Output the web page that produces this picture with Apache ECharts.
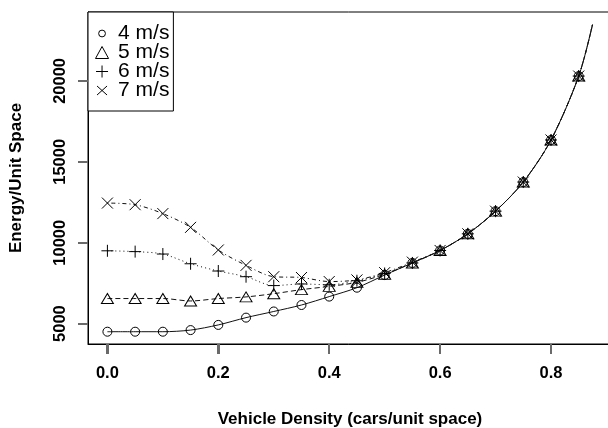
<!DOCTYPE html>
<html>
<head>
<meta charset="utf-8">
<script src="https://cdn.jsdelivr.net/npm/echarts@6/dist/echarts.min.js"></script>
<style>
  html, body { margin: 0; padding: 0; background: #fff; }
  #chart { width: 608px; height: 428px; }
</style>
</head>
<body>
<div id="chart"></div>
<script>
// Vehicle density (cars per unit space) at which each speed was simulated
const density = [0, 0.05, 0.1, 0.15, 0.2, 0.25, 0.3, 0.35, 0.4, 0.45,
                 0.5, 0.55, 0.6, 0.65, 0.7, 0.75, 0.8, 0.85];

// Energy per unit space for each vehicle speed
const energy4 = [4500, 4500, 4500, 4600, 4920, 5370, 5750, 6150, 6670, 7220,
                 8000, 8750, 9520, 10550, 11950, 13750, 16350, 20300];
const energy5 = [6550, 6550, 6550, 6400, 6550, 6650, 6850, 7100, 7300, 7550,
                 8050, 8750, 9520, 10550, 11950, 13750, 16350, 20300];
const energy6 = [9500, 9450, 9300, 8700, 8250, 7900, 7350, 7450, 7400, 7650,
                 8100, 8750, 9520, 10550, 11950, 13750, 16350, 20300];
const energy7 = [12450, 12350, 11800, 10950, 9550, 8600, 7900, 7850, 7600, 7700,
                 8150, 8800, 9520, 10550, 11950, 13750, 16350, 20300];

// Fitted curves run a little past the last simulated density
const curveTail = [0.875, 23500];

const speedNames = ['4 m/s', '5 m/s', '6 m/s', '7 m/s'];
const xTicks = [0, 0.2, 0.4, 0.6, 0.8];
const yTicks = [5000, 10000, 15000, 20000];

// Axis extents (data range padded by 4% on each side)
const xRange = [-0.035, 0.91];
const yRange = [3740, 24260];

const plusPath = 'path://M0,5L10,5M5,0L5,10';
const crossPath = 'path://M0,0L10,10M10,0L0,10';
const symbols = ['circle', 'triangle', plusPath, crossPath];
const symbolSizes = [9, [12, 10], 12, 11];
const dashes = ['solid', [5, 3], [1, 3], [1, 3, 4, 3]];
const seriesValues = [energy4, energy5, energy6, energy7];

// Legend keys: the circle and cross sit inside a padded box so they draw smaller
const legendIcons = [
  'path://M0,0L0,0M12,12L12,12M9.4,6A3.4,3.4 0 1 1 2.6,6A3.4,3.4 0 1 1 9.4,6Z',
  'path://M6,0.5L12,11.5L0,11.5Z',
  'path://M0,6L12,6M6,0L6,12',
  'path://M0,0L0,0M12,12L12,12M1,1.5L11,10.5M11,1.5L1,10.5'
];

const font = '"Liberation Sans", Arial, sans-serif';
const TICK_LEN = 10;
const TICK_COLOR = '#6a6a6a';

function buildSeries(i) {
  const pts = density.map((d, k) => [d, seriesValues[i][k]]);
  pts.push({ value: curveTail, symbol: 'none' });
  return {
    name: speedNames[i],
    type: 'line',
    data: pts,
    smooth: 0.3,
    symbol: symbols[i],
    symbolSize: symbolSizes[i],
    showAllSymbol: true,
    itemStyle: { color: 'transparent', borderColor: '#000', borderWidth: 1 },
    lineStyle: { color: '#111', width: 1, type: dashes[i] },
    emphasis: { disabled: true },
    z: 2 + i
  };
}

const chart = echarts.init(document.getElementById('chart'), null, { renderer: 'canvas' });
chart.setOption({
  animation: false,
  backgroundColor: '#fff',
  textStyle: { fontFamily: font },
  grid: {
    left: 88, top: 12, width: 524, height: 332,
    outerBoundsMode: 'none',
    containLabel: false,
    show: true, borderColor: '#000', borderWidth: 1, backgroundColor: 'transparent'
  },
  legend: {
    orient: 'vertical',
    left: 88, top: 12,
    padding: [11, 4, 10, 7],
    itemWidth: 22, itemHeight: 12, itemGap: -2,
    symbolKeepAspect: true,
    backgroundColor: '#fff',
    borderColor: '#000', borderWidth: 1, borderRadius: 0,
    selectedMode: false,
    itemStyle: { color: 'transparent', borderColor: '#000', borderWidth: 1 },
    textStyle: { fontSize: 21, color: '#000', fontFamily: font, lineHeight: 19 },
    data: speedNames.map((n, i) => ({ name: n, icon: legendIcons[i] }))
  },
  xAxis: {
    type: 'value',
    position: 'bottom',
    min: xRange[0], max: xRange[1],
    name: 'Vehicle Density (cars/unit space)',
    nameLocation: 'middle', nameGap: 67,
    nameTextStyle: { fontSize: 17, fontWeight: 'bold', color: '#000', fontFamily: font },
    axisLine: { show: true, onZero: false, lineStyle: { color: '#000', width: 1 } },
    axisTick: { show: true, inside: false, length: TICK_LEN, customValues: xTicks,
                lineStyle: { color: TICK_COLOR, width: 2 } },
    axisLabel: { show: true, customValues: xTicks, margin: 21,
                 fontSize: 16.5, fontWeight: 'bold', color: '#000', fontFamily: font,
                 formatter: v => v.toFixed(1) },
    splitLine: { show: false }
  },
  yAxis: {
    type: 'value',
    position: 'left',
    min: yRange[0], max: yRange[1],
    name: 'Energy/Unit Space',
    nameLocation: 'middle', nameGap: 63,
    nameTextStyle: { fontSize: 17, fontWeight: 'bold', color: '#000', fontFamily: font },
    axisLine: { show: true, onZero: false, lineStyle: { color: '#000', width: 1 } },
    axisTick: { show: true, inside: false, length: TICK_LEN, customValues: yTicks,
                lineStyle: { color: TICK_COLOR, width: 2 } },
    axisLabel: { show: true, customValues: yTicks, margin: 19, rotate: 90,
                 fontSize: 16.5, fontWeight: 'bold', color: '#000', fontFamily: font,
                 formatter: v => String(v) },
    splitLine: { show: false }
  },
  series: [0, 1, 2, 3].map(buildSeries)
});

// Outward tick marks, positioned through the grid's own coordinate conversion
const tickLines = [];
xTicks.forEach(v => {
  const p = chart.convertToPixel({ gridIndex: 0 }, [v, yRange[0]]);
  const x = Math.round(p[0]), y = Math.round(p[1]);
  tickLines.push({
    type: 'line', z: 100, silent: true,
    shape: { x1: x, y1: y, x2: x, y2: y + TICK_LEN },
    style: { stroke: TICK_COLOR, lineWidth: 2 }
  });
});
yTicks.forEach(v => {
  const p = chart.convertToPixel({ gridIndex: 0 }, [xRange[0], v]);
  const x = Math.round(p[0]), y = Math.round(p[1]);
  tickLines.push({
    type: 'line', z: 100, silent: true,
    shape: { x1: x, y1: y, x2: x - TICK_LEN, y2: y },
    style: { stroke: TICK_COLOR, lineWidth: 2 }
  });
});
chart.setOption({ graphic: { elements: tickLines } });
</script>
</body>
</html>
